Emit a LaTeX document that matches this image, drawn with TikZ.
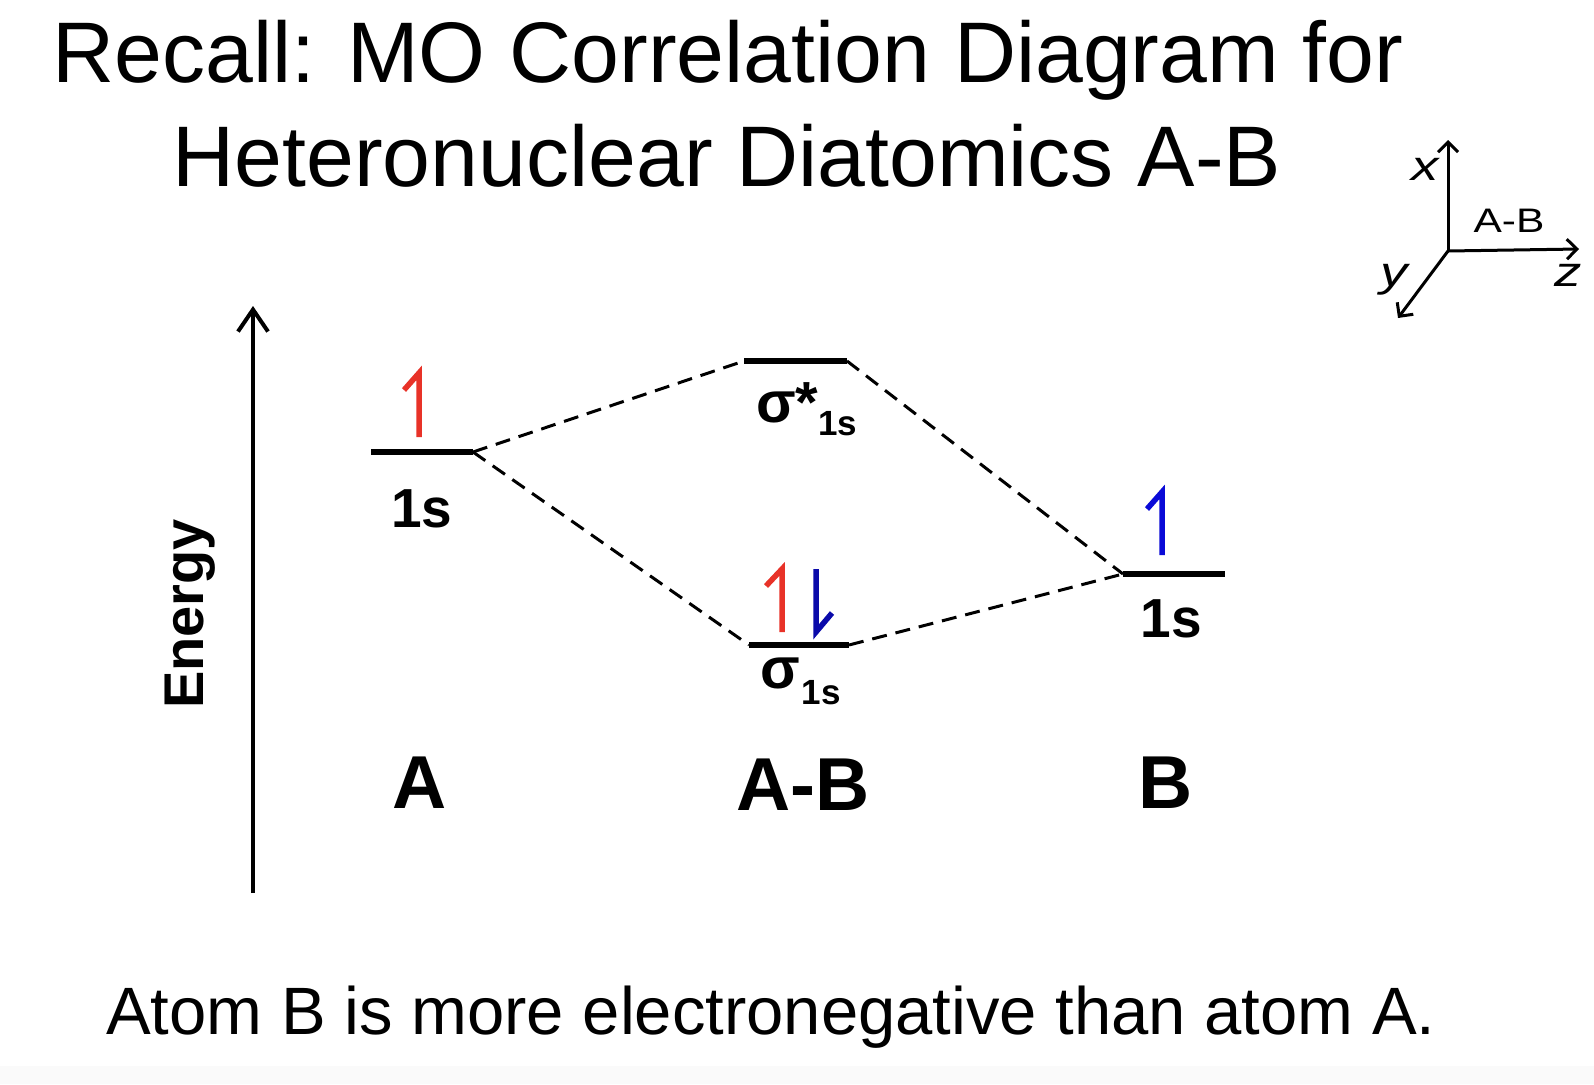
\documentclass[tikz,border=0pt]{standalone}
\usepackage{fontspec}
\setmainfont{Liberation Sans}
\usetikzlibrary{arrows.meta}
\definecolor{ered}{RGB}{232,50,40}
\definecolor{eblue}{RGB}{10,10,215}
\definecolor{eblued}{RGB}{10,10,170}
\begin{document}
\begin{tikzpicture}[x=1pt,y=-1pt,
  level/.style={line width=6pt},
  corr/.style={line width=3pt, dash pattern=on 15pt off 9pt},
  spinup/.style={line width=5.5pt},
  axisarr/.style={line width=4pt, -{Straight Barb[length=22pt,width=30pt,line width=4pt]}},
  smallarr/.style={line width=3pt, -{Straight Barb[length=10pt,width=20pt,line width=3pt]}},
  lbl/.style={font=\fontsize{55}{55}\selectfont\bfseries, anchor=base, inner sep=0pt},
  atom/.style={font=\fontsize{75}{75}\selectfont\bfseries, anchor=base, inner sep=0pt},
  axl/.style={font=\fontsize{42}{42}\selectfont\itshape, inner sep=0pt},
]
\newcommand{\wide}[1]{\scalebox{1.3}[1]{#1}}
\useasboundingbox (0,0) rectangle (1594,1084);
\fill[white] (0,0) rectangle (1594,1084);
\fill[black!2] (0,1066) rectangle (1594,1084);

% title
\node[anchor=base, inner sep=0pt, font=\fontsize{86}{86}\selectfont] (t1) at (728,82) {Recall: MO Correlation Diagram for};
\node[anchor=base, inner sep=0pt, font=\fontsize{86}{86}\selectfont] (t2) at (727,186) {Heteronuclear Diatomics A-B};

% axes
\coordinate (o) at (1448,251);
\coordinate (xt) at (1448,140);
\coordinate (zt) at (1579,249);
\coordinate (yt) at (1398,318);
\draw[smallarr] (o) -- (xt);
\draw[smallarr] (o) -- (zt);
\draw[smallarr] (o) -- (yt);
\node[axl] (xl) at (1425,169) {\wide{x}};
\node[axl] (zl) at (1568,275) {\wide{z}};
\node[axl] (yl) at (1394,280) {\wide{y}};
\node[font=\fontsize{34}{34}\selectfont, inner sep=0pt] (ab) at (1509,221) {\scalebox{1.25}[1]{A-B}};

% energy axis
\coordinate (eb) at (253,893);
\coordinate (et) at (253,306);
\draw[axisarr] (eb) -- (et);
\node[rotate=90, inner sep=0pt, font=\fontsize{56}{56}\selectfont\bfseries] (en) at (190,614) {Energy};

% levels
\coordinate (a1) at (371,452); \coordinate (a2) at (473,452);
\coordinate (s1) at (744,361); \coordinate (s2) at (847,361);
\coordinate (b1) at (749,645); \coordinate (b2) at (849,645);
\coordinate (c1) at (1123,574); \coordinate (c2) at (1225,574);
\draw[level] (a1) -- (a2);
\draw[level] (s1) -- (s2);
\draw[level] (b1) -- (b2);
\draw[level] (c1) -- (c2);

% correlation lines
\draw[corr] (a2) -- (s1);
\draw[corr] (a2) -- (b1);
\draw[corr] (s2) -- (c1);
\draw[corr] (b2) -- (c1);

% electrons
\draw[spinup, ered] (419,437) -- (419,373) -- (404,390);
\draw[spinup, ered] (782,632) -- (782,569) -- (766,586);
\draw[spinup, eblued] (816,569) -- (816,632) -- (832,613);
\draw[spinup, eblue] (1162,555) -- (1162,492) -- (1147,509);

% labels
\node[lbl] (l1) at (422,527) {1s};
\node[lbl] (l2) at (1171,637) {1s};
\node[lbl, anchor=base west, font=\fontsize{58}{58}\selectfont\bfseries] (ls) at (756,422) {σ*\raisebox{-13pt}{\fontsize{35}{35}\selectfont 1s}};
\node[lbl, anchor=base west, font=\fontsize{58}{58}\selectfont\bfseries] (lb) at (760,688) {σ\kern2pt\raisebox{-16pt}{\fontsize{35}{35}\selectfont 1s}};

\node[atom] (A) at (420,808) {A};
\node[atom] (AB) at (803,810) {A-B};
\node[atom] (B) at (1166,808) {B};

\node[anchor=base, inner sep=0pt, font=\fontsize{67}{67}\selectfont] (bot) at (771,1034) {Atom B is more electronegative than atom A.};
\end{tikzpicture}
\end{document}
